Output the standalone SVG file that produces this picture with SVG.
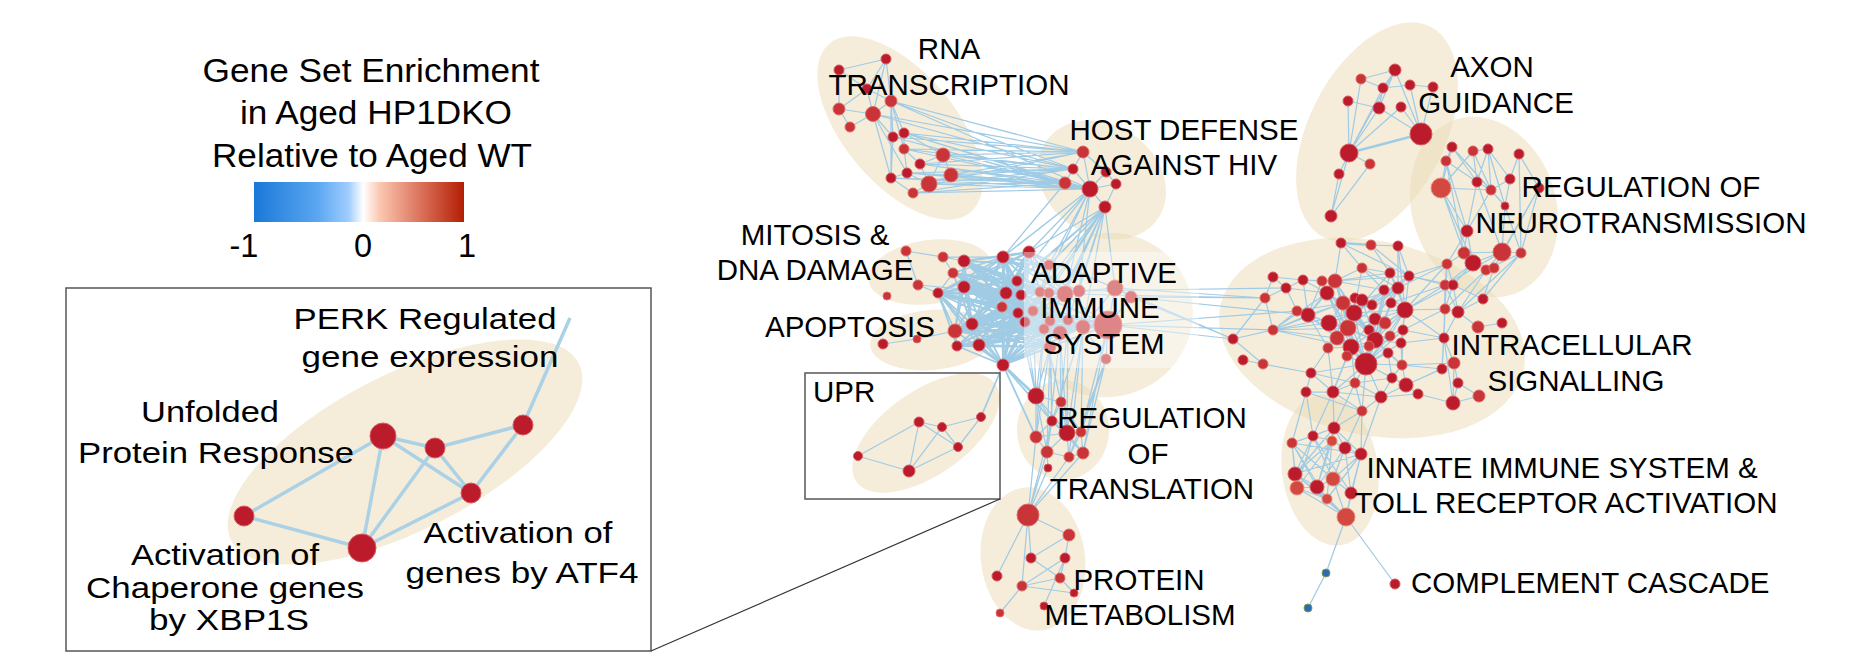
<svg xmlns="http://www.w3.org/2000/svg" width="1849" height="653" viewBox="0 0 1849 653">
<defs>
<linearGradient id="grad" x1="0" y1="0" x2="1" y2="0">
<stop offset="0" stop-color="#1a78d8"/><stop offset="0.3" stop-color="#5aa6f0"/><stop offset="0.45" stop-color="#9fcdff"/><stop offset="0.52" stop-color="#ffffff"/><stop offset="0.6" stop-color="#fbc6b0"/><stop offset="0.8" stop-color="#da6f58"/><stop offset="1" stop-color="#b31e05"/>
</linearGradient>
<style>
.bg{fill:#ecdcb5;fill-opacity:.5}
.e{fill:none;stroke:#a0cbe5;stroke-width:1.25}
.ed{fill:none;stroke:#a0cbe5;stroke-width:1.8}
.et{fill:none;stroke:#a0cbe5;stroke-width:2.6}
.ei{fill:none;stroke:#aad1e5;stroke-width:3.5}
.n{fill:#bc1b2c;stroke:#d9585f;stroke-width:1}
.m{fill:#c93438;stroke:#e06a66;stroke-width:1}
.l{fill:#d4493f;stroke:#e88a7a;stroke-width:1}
.b{fill:#2a6db5;stroke:#7a9a50;stroke-width:1}
text{font-family:"Liberation Sans",Arial,sans-serif;fill:#000}
.lab{font-size:29.5px;text-anchor:middle}
.leg{font-size:32.5px;text-anchor:middle}
.ins{font-size:30px;text-anchor:middle}
</style>
</defs>
<rect width="1849" height="653" fill="#ffffff"/>

<g id="legend">
<text class="leg" x="371" y="82" textLength="337" lengthAdjust="spacingAndGlyphs">Gene Set Enrichment</text>
<text class="leg" x="376" y="124" textLength="272" lengthAdjust="spacingAndGlyphs">in Aged HP1DKO</text>
<text class="leg" x="372" y="167" textLength="320" lengthAdjust="spacingAndGlyphs">Relative to Aged WT</text>
<rect x="254" y="182" width="210" height="40" fill="url(#grad)"/>
<text class="leg" x="244" y="257">-1</text>
<text class="leg" x="363" y="257">0</text>
<text class="leg" x="467" y="257">1</text>
</g>

<g id="cluster-backgrounds">
<ellipse class="bg" cx="900" cy="128" rx="110" ry="56" transform="rotate(50 900 128)"/>
<ellipse class="bg" cx="1102" cy="180" rx="68" ry="55" transform="rotate(35 1102 180)"/>
<ellipse class="bg" cx="930" cy="272" rx="62" ry="32" transform="rotate(-8 930 272)"/>
<ellipse class="bg" cx="932" cy="340" rx="62" ry="30" transform="rotate(-5 932 340)"/>
<ellipse class="bg" cx="1107" cy="315" rx="86" ry="82" transform="rotate(-15 1107 315)"/>
<ellipse class="bg" cx="926" cy="433" rx="85" ry="42" transform="rotate(-35 926 433)"/>
<ellipse class="bg" cx="1063" cy="430" rx="46" ry="50"/>
<ellipse class="bg" cx="1033" cy="559" rx="52" ry="72" transform="rotate(-8 1033 559)"/>
<ellipse class="bg" cx="1377" cy="132" rx="68" ry="118" transform="rotate(27 1377 132)"/>
<ellipse class="bg" cx="1484" cy="207" rx="72" ry="92" transform="rotate(-18 1484 207)"/>
<ellipse class="bg" cx="1372" cy="338" rx="155" ry="97" transform="rotate(12 1372 338)"/>
<ellipse class="bg" cx="1330" cy="470" rx="48" ry="76" transform="rotate(-8 1330 470)"/>
</g>

<g id="connectors">
<path class="e" d="M839 70L886 59 M839 70L867 89 M886 59L867 89 M886 59L873 114 M839 70L839 109 M867 89L839 109 M867 89L873 114 M867 89L891 101 M839 109L873 114 M891 101L873 114 M873 114L850 127 M839 109L850 127 M891 101L893 137 M891 101L904 133 M891 101L904 149 M873 114L893 137 M873 114L891 178 M873 114L907 173 M893 137L891 178 M904 133L904 149 M904 149L920 164 M904 149L907 173 M920 164L943 155 M920 164L929 184 M943 155L951 175 M943 155L929 184 M907 173L929 184 M907 173L891 178 M891 178L913 193 M929 184L913 193 M951 175L929 184 M891 101L891 178 M904 133L943 155 M907 173L951 175 M886 59L891 101"/>
<path class="e" d="M891 101L1083 152 M891 101L1073 169 M891 101L1090 189 M904 133L1083 152 M904 133L1073 169 M904 133L1065 183 M904 133L1090 189 M893 137L1083 152 M893 137L1065 183 M904 149L1083 152 M904 149L1073 169 M904 149L1090 189 M920 164L1073 169 M920 164L1065 183 M920 164L1090 189 M943 155L1083 152 M943 155L1073 169 M943 155L1090 189 M907 173L1073 169 M907 173L1065 183 M907 173L1090 189 M951 175L1083 152 M951 175L1073 169 M951 175L1065 183 M951 175L1090 189 M929 184L1073 169 M929 184L1065 183 M929 184L1090 189 M891 178L1065 183 M891 178L1090 189 M913 193L1065 183 M913 193L1090 189 M873 114L1083 152 M873 114L1073 169 M920 164L1083 152 M929 184L1083 152 M913 193L1073 169 M893 137L1090 189"/>
<path class="e" d="M1083 152L1073 169 M1083 152L1090 189 M1073 169L1090 189 M1065 183L1090 189 M1090 189L1116 184 M1090 189L1105 207 M1090 189L1106 172 M1116 184L1105 207 M1083 152L1106 172 M1065 183L1073 169 M1106 172L1116 184"/>
<path class="e" d="M1090 189L1003 257 M1090 189L1029 252 M1090 189L1017 281 M1090 189L1049 265 M1090 189L1040 292 M1090 189L1065 294 M1090 189L1079 291 M1105 207L1029 252 M1105 207L1017 281 M1105 207L1021 295 M1105 207L1040 292 M1105 207L1049 293 M1105 207L1065 294 M1105 207L1079 291 M1105 207L1115 288 M1105 207L1033 311 M1105 207L1050 321 M1105 207L1068 320 M1105 207L1049 265 M1105 207L1006 293 M1065 183L1003 257 M1090 189L964 287 M1105 207L1044 329 M1105 207L1083 327"/>
<path class="e" d="M906 251L943 257 M943 257L964 261 M943 257L953 273 M918 285L938 293 M953 273L938 293 M938 293L964 287 M964 261L964 287 M906 251L918 285 M943 257L1003 257 M964 261L1003 257 M883 344L917 339 M917 339L955 331 M955 331L972 324 M955 331L957 346 M957 346L979 345 M972 324L979 345 M918 285L1006 293"/>
<path class="ed" d="M938 293L1003 257 M938 293L1017 281 M938 293L1006 293 M938 293L1021 295 M938 293L1002 307 M938 293L1018 313 M938 293L1025 322 M938 293L1040 292 M938 293L1033 311 M938 293L1044 329 M938 293L1003 365 M938 293L972 324 M938 293L1029 252 M964 287L1003 257 M964 287L1029 252 M964 287L1017 281 M964 287L1006 293 M964 287L1021 295 M964 287L1002 307 M964 287L1018 313 M964 287L1025 322 M964 287L1040 292 M964 287L1065 294 M964 287L1033 311 M964 287L1044 329 M964 287L1003 365 M964 261L1029 252 M964 261L1017 281 M964 261L1006 293 M964 261L1021 295 M964 261L1018 313 M964 261L1049 265 M964 261L1040 292 M964 261L1065 294"/>
<path class="ed" d="M972 324L1003 257 M972 324L1029 252 M972 324L1017 281 M972 324L1006 293 M972 324L1021 295 M972 324L1002 307 M972 324L1018 313 M972 324L1025 322 M972 324L1040 292 M972 324L1033 311 M972 324L1044 329 M972 324L1003 365 M972 324L1065 294 M979 345L1017 281 M979 345L1006 293 M979 345L1002 307 M979 345L1018 313 M979 345L1025 322 M979 345L1003 365 M979 345L1033 311 M979 345L1044 329 M955 331L1003 257 M955 331L1017 281 M955 331L1006 293 M955 331L1002 307 M955 331L1018 313 M955 331L1003 365"/>
<path class="ed" d="M938 293L1049 293 M938 293L1065 294 M938 293L1050 321 M938 293L1068 320 M938 293L1060 333 M938 293L1050 347 M938 293L1083 327 M938 293L1108 325 M964 287L1049 293 M964 287L1050 321 M964 287L1068 320 M964 287L1060 333 M964 287L1050 347 M964 287L1083 327 M964 287L1108 325 M964 261L1049 293 M964 261L1050 321 M964 261L1068 320 M964 261L1060 333 M964 261L1083 327 M964 261L1108 325 M953 273L1049 293 M953 273L1065 294 M953 273L1050 321 M953 273L1060 333 M953 273L1083 327 M972 324L1049 293 M972 324L1050 321 M972 324L1068 320 M972 324L1060 333 M972 324L1050 347 M972 324L1083 327 M972 324L1108 325 M955 331L1049 293 M955 331L1065 294 M955 331L1050 321 M955 331L1060 333 M955 331L1050 347 M955 331L1083 327 M957 346L1049 293 M957 346L1050 321 M957 346L1060 333 M957 346L1050 347 M957 346L1068 320 M979 345L1049 293 M979 345L1065 294 M979 345L1050 321 M979 345L1060 333 M979 345L1050 347 M979 345L1083 327 M979 345L1108 325 M1003 365L1049 293 M1003 365L1065 294 M1003 365L1050 321 M1003 365L1068 320 M1003 365L1083 327 M1003 365L1108 325 M938 293L955 331 M938 293L979 345 M964 287L972 324 M964 287L979 345 M964 261L972 324 M953 273L972 324 M938 293L957 346 M964 287L955 331 M953 273L979 345 M964 261L955 331"/>
<path class="ed" d="M1003 365L1003 257 M1003 365L1029 252 M1003 365L1017 281 M1003 365L1006 293 M1003 365L1021 295 M1003 365L1002 307 M1003 365L1018 313 M1003 365L1025 322 M1003 365L1040 292 M1003 365L1033 311 M1003 365L1044 329 M1003 365L1060 333 M1003 365L1050 347 M1003 365L957 346 M1003 365L981 417 M1003 365L1036 437 M1003 365L1052 421"/>
<path class="ed" d="M1003 257L1029 252 M1003 257L1017 281 M1003 257L1006 293 M1003 257L1021 295 M1003 257L1002 307 M1003 257L1018 313 M1003 257L1025 322 M1003 257L1040 292 M1003 257L1065 294 M1003 257L1049 265 M1003 257L1079 291 M1029 252L1017 281 M1029 252L1006 293 M1029 252L1021 295 M1029 252L1002 307 M1029 252L1018 313 M1029 252L1025 322 M1029 252L1040 292 M1029 252L1065 294 M1029 252L1049 265 M1029 252L1115 288 M1017 281L1006 293 M1017 281L1021 295 M1017 281L1002 307 M1017 281L1018 313 M1017 281L1025 322 M1017 281L1040 292 M1017 281L1033 311 M1017 281L1044 329 M1006 293L1021 295 M1006 293L1002 307 M1006 293L1018 313 M1006 293L1025 322 M1006 293L1033 311 M1006 293L1044 329 M1021 295L1002 307 M1021 295L1018 313 M1002 307L1025 322 M1018 313L1025 322 M1021 295L1025 322 M1002 307L1018 313 M953 273L1003 257 M953 273L1017 281 M953 273L1006 293 M953 273L1002 307 M957 346L1002 307 M957 346L1018 313"/>
<path class="e" d="M1040 292L1049 293 M1049 293L1065 294 M1065 294L1079 291 M1079 291L1115 288 M1115 288L1131 297 M1065 294L1068 320 M1068 320L1083 327 M1083 327L1108 325 M1108 325L1115 288 M1050 321L1060 333 M1060 333L1083 327 M1044 329L1060 333 M1050 347L1060 333 M1108 325L1106 359 M1068 320L1108 325 M1033 311L1050 321 M1050 321L1068 320 M1049 293L1050 321 M1083 327L1106 359 M1131 297L1108 325 M1049 265L1065 294 M1049 265L1040 292 M1079 291L1083 327 M1065 294L1108 325 M1115 288L1083 327"/>
<path class="e" d="M1115 288L1265 298 M1131 297L1265 298 M1108 325L1273 330 M1108 325L1233 339 M1131 297L1233 339 M1079 291L1286 288 M1083 327L1297 311 M1131 297L1308 315 M1065 294L1265 298 M1115 288L1233 339"/>
<path class="et" d="M1003 365L1036 396 M1349 153L1421 134 M1341 243L1371 245"/>
<path class="e" d="M1036 396L1061 402 M1036 396L1036 437 M1036 396L1052 421 M1036 396L1067 433 M1036 396L1047 452 M1061 402L1067 433 M1052 421L1067 433 M1052 421L1036 437 M1067 433L1081 432 M1067 433L1047 452 M1067 433L1069 457 M1067 433L1083 453 M1081 432L1083 453 M1036 437L1047 452 M1047 452L1069 457 M1069 457L1083 453 M1052 421L1047 452 M1036 437L1067 433 M1061 402L1052 421 M1081 432L1069 457 M1047 452L1048 468 M1061 402L1081 432 M1052 421L1083 453"/>
<path class="e" d="M1061 402L1044 329 M1061 402L1060 333 M1052 421L1050 321 M1052 421L1050 347 M1067 433L1060 333 M1067 433L1083 327 M1067 433L1068 320 M1081 432L1108 325 M1081 432L1083 327 M1081 432L1106 359 M1036 437L1044 329 M1036 437L1050 347 M1047 452L1060 333 M1047 452L1050 347 M1069 457L1083 327 M1069 457L1106 359 M1083 453L1108 325 M1083 453L1106 359 M1036 396L1044 329 M1036 396L1033 311 M1036 396L1050 347 M1061 402L1068 320 M1052 421L1083 327 M1036 396L1025 322 M1036 396L1018 313"/>
<path class="e" d="M1048 468L1028 515 M1047 452L1028 515 M1036 437L1028 515 M1069 457L1028 515 M1052 421L1028 515 M1083 453L1028 515 M1028 515L1069 535 M1028 515L1031 558 M1028 515L997 576 M1028 515L1022 586 M1069 535L1065 558 M1069 535L1031 558 M1031 558L1060 578 M1065 558L1060 578 M1065 558L1022 586 M1060 578L1022 586 M1022 586L1000 613 M1022 586L1074 593 M1060 578L1074 593 M1065 558L1044 606"/>
<path class="e" d="M919 422L858 456 M858 456L909 471 M919 422L909 471 M919 422L942 427 M919 422L958 447 M942 427L981 417 M942 427L958 447 M942 427L909 471 M909 471L958 447 M958 447L981 417"/>
<path class="e" d="M1395 70L1361 79 M1395 70L1383 88 M1395 70L1379 108 M1395 70L1421 134 M1361 79L1383 88 M1383 88L1379 108 M1383 88L1410 85 M1410 85L1421 134 M1433 87L1421 134 M1433 87L1410 85 M1348 101L1379 108 M1348 101L1349 153 M1379 108L1349 153 M1401 107L1349 153 M1401 107L1421 134 M1379 108L1421 134 M1349 153L1370 164 M1349 153L1339 174 M1349 153L1331 216 M1339 174L1331 216 M1370 164L1331 216 M1383 88L1349 153 M1395 70L1349 153 M1361 79L1349 153"/>
<path class="e" d="M1452 147L1446 161 M1452 147L1477 182 M1452 147L1441 188 M1473 151L1477 182 M1473 151L1491 190 M1473 151L1488 149 M1488 149L1510 179 M1488 149L1491 190 M1488 149L1505 206 M1446 161L1441 188 M1446 161L1477 182 M1477 182L1491 190 M1477 182L1467 231 M1510 179L1491 190 M1510 179L1505 206 M1441 188L1467 231 M1441 188L1464 253 M1491 190L1505 206 M1491 190L1467 231 M1505 206L1502 252 M1519 154L1539 188 M1519 154L1510 179 M1539 188L1502 252 M1539 188L1521 253 M1467 231L1464 253 M1467 231L1473 263 M1464 253L1473 263 M1464 253L1502 252 M1502 252L1521 253 M1502 252L1473 263 M1502 252L1486 270 M1521 253L1486 270 M1473 263L1486 270 M1473 263L1494 268 M1502 252L1494 268 M1452 147L1491 190 M1446 161L1464 253 M1473 151L1441 188 M1488 149L1477 182 M1519 154L1521 253 M1441 188L1473 263 M1446 161L1467 231 M1477 182L1502 252 M1505 206L1521 253 M1441 188L1491 190 M1452 147L1505 206 M1539 188L1494 268"/>
<path class="e" d="M1464 253L1447 264 M1473 263L1453 285 M1473 263L1445 285 M1486 270L1458 312 M1521 253L1458 312 M1486 270L1445 309 M1494 268L1483 299 M1502 252L1445 285 M1467 231L1447 264 M1521 253L1483 299"/>
<path class="e" d="M1371 245L1398 246 M1341 243L1362 268 M1362 268L1390 273 M1362 268L1335 281 M1362 268L1384 290 M1371 245L1390 273 M1398 246L1409 276 M1341 243L1335 281 M1366 364L1335 281 M1366 364L1327 293 M1366 364L1343 303 M1366 364L1354 313 M1366 364L1329 323 M1366 364L1375 319 M1366 364L1385 323 M1366 364L1348 328 M1366 364L1369 330 M1366 364L1337 338 M1366 364L1375 340 M1366 364L1390 336 M1366 364L1351 347 M1366 364L1369 346 M1366 364L1401 343 M1366 364L1347 356 M1366 364L1388 353 M1366 364L1402 365 M1366 364L1355 383 M1366 364L1392 378 M1366 364L1406 385 M1366 364L1333 392 M1366 364L1381 397 M1366 364L1362 411 M1366 364L1311 373 M1366 364L1405 310 M1366 364L1403 330 M1366 364L1398 288 M1366 364L1384 290 M1366 364L1391 303"/>
<path class="e" d="M1375 340L1335 281 M1375 340L1398 288 M1375 340L1327 293 M1375 340L1362 300 M1375 340L1343 303 M1375 340L1391 303 M1375 340L1354 313 M1375 340L1405 310 M1375 340L1329 323 M1375 340L1385 323 M1375 340L1348 328 M1375 340L1369 330 M1375 340L1403 330 M1375 340L1390 336 M1375 340L1351 347 M1375 340L1401 343 M1375 340L1388 353 M1375 340L1402 365 M1375 340L1384 290 M1375 340L1390 273 M1351 347L1327 293 M1351 347L1343 303 M1351 347L1308 315 M1351 347L1354 313 M1351 347L1329 323 M1351 347L1348 328 M1351 347L1337 338 M1351 347L1328 348 M1351 347L1369 346 M1351 347L1347 356 M1351 347L1355 383 M1351 347L1333 392 M1351 347L1398 288 M1351 347L1405 310"/>
<path class="e" d="M1354 313L1335 281 M1354 313L1327 293 M1354 313L1355 298 M1354 313L1362 300 M1354 313L1343 303 M1354 313L1329 323 M1354 313L1375 319 M1354 313L1348 328 M1354 313L1369 330 M1354 313L1337 338 M1354 313L1384 290 M1354 313L1398 288 M1354 313L1405 310 M1354 313L1390 273 M1354 313L1409 276 M1354 313L1362 268 M1348 328L1327 293 M1348 328L1343 303 M1348 328L1308 315 M1348 328L1329 323 M1348 328L1337 338 M1348 328L1328 348 M1348 328L1335 281 M1348 328L1398 288 M1348 328L1405 310"/>
<path class="e" d="M1405 310L1390 273 M1405 310L1409 276 M1405 310L1384 290 M1405 310L1398 288 M1405 310L1391 303 M1405 310L1385 323 M1405 310L1403 330 M1405 310L1390 336 M1405 310L1401 343 M1405 310L1447 264 M1405 310L1445 285 M1405 310L1453 285 M1405 310L1445 309 M1405 310L1444 338 M1405 310L1398 246 M1398 288L1390 273 M1398 288L1409 276 M1398 288L1384 290 M1398 288L1391 303 M1398 288L1398 246 M1398 288L1362 268 M1398 288L1362 300 M1398 288L1372 305 M1398 288L1447 264 M1343 303L1335 281 M1343 303L1327 293 M1343 303L1355 298 M1343 303L1329 323 M1343 303L1337 338 M1343 303L1308 315 M1343 303L1297 311"/>
<path class="e" d="M1273 330L1327 293 M1273 330L1343 303 M1273 330L1308 315 M1273 330L1329 323 M1273 330L1354 313 M1273 330L1348 328 M1273 330L1351 347 M1273 330L1337 338 M1273 330L1297 311 M1273 330L1265 298 M1308 315L1327 293 M1308 315L1329 323 M1308 315L1337 338 M1308 315L1328 348 M1308 315L1297 311 M1308 315L1303 280 M1308 315L1322 281 M1308 315L1335 281 M1273 277L1286 288 M1273 277L1265 298 M1273 277L1303 280 M1286 288L1303 280 M1286 288L1327 293 M1286 288L1265 298 M1286 288L1297 311 M1303 280L1322 281 M1303 280L1327 293 M1303 280L1335 281 M1322 281L1335 281 M1322 281L1327 293 M1335 281L1327 293 M1335 281L1390 273 M1335 281L1409 276 M1335 281L1384 290 M1371 245L1409 276 M1341 243L1409 276"/>
<path class="e" d="M1233 339L1265 298 M1233 339L1263 364 M1233 339L1273 330 M1243 360L1263 364 M1263 364L1311 373 M1311 373L1306 392 M1311 373L1333 392 M1311 373L1355 383 M1311 373L1328 348 M1306 392L1333 392 M1306 392L1362 411 M1333 392L1355 383 M1333 392L1381 397 M1333 392L1362 411 M1333 392L1347 356 M1333 392L1328 348 M1355 383L1381 397 M1355 383L1392 378 M1355 383L1362 411 M1381 397L1392 378 M1381 397L1406 385 M1381 397L1418 394 M1381 397L1362 411 M1392 378L1406 385 M1392 378L1402 365 M1392 378L1388 353 M1406 385L1402 365 M1406 385L1418 394 M1406 385L1454 363 M1406 385L1442 369 M1402 365L1401 343 M1402 365L1388 353 M1402 365L1403 330 M1402 365L1442 369 M1402 365L1454 363 M1418 394L1453 403 M1453 403L1479 396 M1453 403L1454 363 M1453 403L1458 383 M1453 403L1444 338 M1479 396L1458 383"/>
<path class="e" d="M1444 338L1445 309 M1444 338L1458 312 M1444 338L1401 343 M1444 338L1403 330 M1444 338L1454 363 M1444 338L1442 369 M1444 338L1445 285 M1478 327L1458 312 M1478 327L1502 323 M1454 363L1458 383 M1454 363L1442 369 M1442 369L1445 309 M1445 309L1458 312 M1445 309L1447 264 M1445 309L1445 285 M1445 309L1453 285 M1445 309L1403 330 M1458 312L1453 285 M1458 312L1445 285 M1447 264L1445 285 M1447 264L1453 285 M1447 264L1409 276 M1445 285L1453 285 M1483 299L1453 285 M1483 299L1458 312 M1409 276L1445 285 M1409 276L1453 285 M1391 303L1445 285"/>
<path class="e" d="M1334 428L1313 436 M1334 428L1332 441 M1334 428L1345 448 M1334 428L1361 454 M1334 428L1292 443 M1313 436L1292 443 M1313 436L1332 441 M1313 436L1295 474 M1313 436L1333 479 M1332 441L1345 448 M1332 441L1295 474 M1332 441L1317 487 M1292 443L1295 474 M1292 443L1297 488 M1292 443L1317 487 M1292 443L1333 479 M1345 448L1361 454 M1345 448L1333 479 M1345 448L1351 493 M1361 454L1351 493 M1361 454L1333 479 M1361 454L1346 517 M1295 474L1297 488 M1295 474L1317 487 M1295 474L1327 499 M1333 479L1317 487 M1333 479L1351 493 M1333 479L1346 517 M1297 488L1317 487 M1297 488L1327 499 M1317 487L1327 499 M1317 487L1346 517 M1351 493L1346 517 M1327 499L1346 517 M1334 428L1295 474 M1334 428L1317 487 M1313 436L1351 493 M1332 441L1297 488 M1345 448L1317 487 M1361 454L1327 499 M1313 436L1297 488 M1332 441L1327 499 M1295 474L1346 517 M1292 443L1327 499 M1297 488L1346 517 M1361 454L1295 474 M1292 443L1361 454"/>
<path class="e" d="M1334 428L1362 411 M1334 428L1355 383 M1345 448L1362 411 M1313 436L1306 392 M1334 428L1333 392 M1313 436L1333 392 M1361 454L1362 411 M1292 443L1306 392 M1361 454L1381 397 M1346 517L1326 573 M1326 573L1308 608 M1346 517L1395 584"/>
</g>

<g id="node-rna-transcription">
<circle class="n" cx="886" cy="59" r="5"/><circle class="n" cx="839" cy="70" r="5"/><circle class="n" cx="867" cy="89" r="5"/><circle class="m" cx="891" cy="101" r="6"/><circle class="m" cx="839" cy="109" r="6"/><circle class="m" cx="873" cy="114" r="7.5"/><circle class="m" cx="850" cy="127" r="5"/><circle class="n" cx="893" cy="137" r="5"/><circle class="n" cx="904" cy="133" r="5"/><circle class="m" cx="904" cy="149" r="5"/><circle class="n" cx="920" cy="164" r="5"/><circle class="m" cx="943" cy="155" r="7"/><circle class="n" cx="907" cy="173" r="5"/><circle class="m" cx="951" cy="175" r="7"/><circle class="m" cx="929" cy="184" r="8"/><circle class="n" cx="891" cy="178" r="5"/><circle class="m" cx="913" cy="193" r="5"/>
<text class="lab" x="949" y="59">RNA</text>
<text class="lab" x="949" y="95">TRANSCRIPTION</text>
</g>

<g id="node-host-defense-against-hiv">
<circle class="m" cx="1083" cy="152" r="6"/><circle class="n" cx="1073" cy="169" r="5"/><circle class="m" cx="1065" cy="183" r="6"/><circle class="n" cx="1090" cy="189" r="8"/><circle class="n" cx="1116" cy="184" r="5"/><circle class="n" cx="1105" cy="207" r="6"/><circle class="n" cx="1106" cy="172" r="5"/>
<text class="lab" x="1184" y="140">HOST DEFENSE</text>
<text class="lab" x="1184" y="175">AGAINST HIV</text>
</g>

<g id="node-mitosis-dna-damage">
<circle class="m" cx="906" cy="251" r="5"/><circle class="m" cx="943" cy="257" r="5"/><circle class="n" cx="964" cy="261" r="6"/><circle class="m" cx="953" cy="273" r="5"/><circle class="m" cx="918" cy="285" r="5"/><circle class="m" cx="887" cy="296" r="4"/><circle class="n" cx="938" cy="293" r="5"/><circle class="n" cx="964" cy="287" r="6"/>
<circle class="n" cx="1003" cy="257" r="6"/><circle class="n" cx="1029" cy="252" r="6"/><circle class="n" cx="1017" cy="281" r="5"/><circle class="n" cx="1006" cy="293" r="6"/><circle class="n" cx="1021" cy="295" r="5"/><circle class="m" cx="1002" cy="307" r="5"/><circle class="n" cx="1018" cy="313" r="5"/><circle class="n" cx="1025" cy="322" r="5"/>
<text class="lab" x="815" y="245">MITOSIS &amp;</text>
<text class="lab" x="815" y="280">DNA DAMAGE</text>
</g>

<g id="node-apoptosis">
<circle class="n" cx="972" cy="324" r="6"/><circle class="m" cx="955" cy="331" r="7"/><circle class="n" cx="957" cy="346" r="5"/><circle class="n" cx="979" cy="345" r="6"/><circle class="m" cx="917" cy="339" r="4"/><circle class="n" cx="883" cy="344" r="5"/><circle class="n" cx="1003" cy="365" r="6"/>
<text class="lab" x="850" y="337">APOPTOSIS</text>
</g>

<g id="node-adaptive-immune-system">
<circle class="m" cx="1040" cy="292" r="5"/><circle class="m" cx="1049" cy="293" r="5"/><circle class="m" cx="1065" cy="294" r="8"/><circle class="m" cx="1079" cy="291" r="6"/><circle class="m" cx="1115" cy="288" r="8"/><circle class="m" cx="1131" cy="297" r="6"/><circle class="m" cx="1033" cy="311" r="5"/><circle class="m" cx="1050" cy="321" r="5"/><circle class="m" cx="1068" cy="320" r="5"/><circle class="m" cx="1044" cy="329" r="5"/><circle class="m" cx="1060" cy="333" r="7"/><circle class="m" cx="1083" cy="327" r="7"/><circle class="m" cx="1108" cy="325" r="14"/><circle class="m" cx="1050" cy="347" r="6"/><circle class="m" cx="1106" cy="359" r="5"/><circle class="m" cx="1049" cy="265" r="5"/>
<rect x="1024" y="252" width="175" height="116" fill="#ffffff" fill-opacity="0.4"/>
<text class="lab" x="1104" y="283">ADAPTIVE</text>
<text class="lab" x="1100" y="318">IMMUNE</text>
<text class="lab" x="1104" y="354">SYSTEM</text>
</g>

<g id="node-upr">
<rect x="805" y="373" width="195" height="126" fill="none" stroke="#555" stroke-width="1.5"/>
<circle class="n" cx="919" cy="422" r="5"/><circle class="n" cx="942" cy="427" r="4.5"/><circle class="n" cx="981" cy="417" r="4.5"/><circle class="n" cx="958" cy="447" r="4.5"/><circle class="n" cx="858" cy="456" r="4.5"/><circle class="n" cx="909" cy="471" r="6"/>
<text x="813" y="402" font-size="29.5">UPR</text>
</g>

<g id="node-regulation-of-translation">
<circle class="n" cx="1036" cy="396" r="8"/><circle class="m" cx="1061" cy="402" r="5"/><circle class="n" cx="1052" cy="421" r="5"/><circle class="n" cx="1067" cy="433" r="8"/><circle class="m" cx="1081" cy="432" r="5"/><circle class="m" cx="1036" cy="437" r="6"/><circle class="m" cx="1047" cy="452" r="6"/><circle class="m" cx="1069" cy="457" r="5"/><circle class="m" cx="1083" cy="453" r="6"/><circle class="n" cx="1048" cy="468" r="4"/>
<text class="lab" x="1152" y="428">REGULATION</text>
<text class="lab" x="1148" y="464">OF</text>
<text class="lab" x="1152" y="499">TRANSLATION</text>
</g>

<g id="node-protein-metabolism">
<circle class="m" cx="1028" cy="515" r="11"/><circle class="m" cx="1069" cy="535" r="6"/><circle class="n" cx="1031" cy="558" r="5"/><circle class="n" cx="1065" cy="558" r="5"/><circle class="n" cx="997" cy="576" r="5"/><circle class="m" cx="1060" cy="578" r="5"/><circle class="m" cx="1022" cy="586" r="5"/><circle class="n" cx="1074" cy="593" r="4"/><circle class="m" cx="1000" cy="613" r="4"/><circle class="n" cx="1044" cy="606" r="4"/>
<text class="lab" x="1139" y="590">PROTEIN</text>
<text class="lab" x="1140" y="625">METABOLISM</text>
</g>

<g id="node-axon-guidance">
<circle class="n" cx="1395" cy="70" r="6"/><circle class="m" cx="1361" cy="79" r="5"/><circle class="n" cx="1383" cy="88" r="5"/><circle class="n" cx="1410" cy="85" r="5"/><circle class="n" cx="1433" cy="87" r="5"/><circle class="n" cx="1348" cy="101" r="5"/><circle class="n" cx="1379" cy="108" r="6"/><circle class="n" cx="1401" cy="107" r="5"/><circle class="n" cx="1421" cy="134" r="11"/><circle class="n" cx="1349" cy="153" r="9"/><circle class="m" cx="1370" cy="164" r="5"/><circle class="n" cx="1339" cy="174" r="5"/><circle class="n" cx="1331" cy="216" r="6"/>
<text class="lab" x="1492" y="77">AXON</text>
<text class="lab" x="1496" y="113">GUIDANCE</text>
</g>

<g id="node-regulation-of-neurotransmission">
<circle class="n" cx="1452" cy="147" r="5"/><circle class="m" cx="1473" cy="151" r="5"/><circle class="n" cx="1488" cy="149" r="5"/><circle class="n" cx="1519" cy="154" r="5"/><circle class="m" cx="1446" cy="161" r="5"/><circle class="n" cx="1477" cy="182" r="5"/><circle class="n" cx="1510" cy="179" r="5"/><circle class="l" cx="1441" cy="188" r="10"/><circle class="m" cx="1491" cy="190" r="5"/><circle class="n" cx="1505" cy="206" r="4"/><circle class="n" cx="1539" cy="188" r="5"/><circle class="n" cx="1467" cy="231" r="6"/><circle class="m" cx="1464" cy="253" r="6"/><circle class="m" cx="1502" cy="252" r="9"/><circle class="m" cx="1521" cy="253" r="5"/><circle class="n" cx="1473" cy="263" r="8"/><circle class="m" cx="1486" cy="270" r="5"/><circle class="m" cx="1494" cy="268" r="5"/>
<text class="lab" x="1641" y="197">REGULATION OF</text>
<text class="lab" x="1641" y="233">NEUROTRANSMISSION</text>
</g>

<g id="node-intracellular-signalling">
<circle class="n" cx="1341" cy="243" r="5"/><circle class="m" cx="1371" cy="245" r="5"/><circle class="n" cx="1398" cy="246" r="5"/><circle class="m" cx="1362" cy="268" r="5"/><circle class="n" cx="1273" cy="277" r="5"/><circle class="n" cx="1286" cy="288" r="5"/><circle class="n" cx="1303" cy="280" r="5"/><circle class="m" cx="1322" cy="281" r="5"/><circle class="m" cx="1335" cy="281" r="7"/><circle class="n" cx="1390" cy="273" r="5"/><circle class="n" cx="1409" cy="276" r="5"/><circle class="n" cx="1384" cy="290" r="5"/><circle class="n" cx="1398" cy="288" r="6"/><circle class="m" cx="1447" cy="264" r="5"/><circle class="m" cx="1445" cy="285" r="5"/><circle class="n" cx="1453" cy="285" r="5"/><circle class="m" cx="1265" cy="298" r="5"/><circle class="n" cx="1327" cy="293" r="7"/><circle class="n" cx="1355" cy="298" r="5"/><circle class="n" cx="1362" cy="300" r="6"/><circle class="n" cx="1372" cy="305" r="5"/><circle class="m" cx="1343" cy="303" r="7"/><circle class="n" cx="1391" cy="303" r="5"/><circle class="n" cx="1483" cy="299" r="5"/><circle class="m" cx="1297" cy="311" r="5"/><circle class="n" cx="1308" cy="315" r="7"/><circle class="n" cx="1354" cy="313" r="8"/><circle class="n" cx="1405" cy="310" r="8"/><circle class="m" cx="1445" cy="309" r="5"/><circle class="n" cx="1458" cy="312" r="6"/><circle class="n" cx="1329" cy="323" r="8"/><circle class="n" cx="1375" cy="319" r="6"/><circle class="m" cx="1385" cy="323" r="6"/><circle class="m" cx="1273" cy="330" r="5"/><circle class="m" cx="1348" cy="328" r="8"/><circle class="n" cx="1369" cy="330" r="5"/><circle class="n" cx="1403" cy="330" r="5"/><circle class="m" cx="1337" cy="338" r="7"/><circle class="n" cx="1375" cy="340" r="8"/><circle class="m" cx="1390" cy="336" r="5"/><circle class="n" cx="1233" cy="339" r="5"/><circle class="m" cx="1328" cy="348" r="5"/><circle class="n" cx="1351" cy="347" r="8"/><circle class="m" cx="1369" cy="346" r="5"/><circle class="n" cx="1401" cy="343" r="5"/><circle class="n" cx="1444" cy="338" r="5"/><circle class="m" cx="1478" cy="327" r="6"/><circle class="n" cx="1502" cy="323" r="5"/><circle class="m" cx="1347" cy="356" r="5"/><circle class="n" cx="1388" cy="353" r="5"/><circle class="n" cx="1366" cy="364" r="11"/><circle class="n" cx="1243" cy="360" r="5"/><circle class="m" cx="1263" cy="364" r="5"/><circle class="n" cx="1311" cy="373" r="5"/><circle class="m" cx="1402" cy="365" r="5"/><circle class="n" cx="1442" cy="369" r="5"/><circle class="m" cx="1454" cy="363" r="6"/><circle class="m" cx="1355" cy="383" r="5"/><circle class="n" cx="1392" cy="378" r="5"/><circle class="n" cx="1406" cy="385" r="7"/><circle class="n" cx="1458" cy="383" r="5"/><circle class="n" cx="1306" cy="392" r="5"/><circle class="n" cx="1333" cy="392" r="6"/><circle class="n" cx="1381" cy="397" r="6"/><circle class="n" cx="1418" cy="394" r="5"/><circle class="m" cx="1479" cy="396" r="6"/><circle class="n" cx="1453" cy="403" r="7"/><circle class="m" cx="1362" cy="411" r="5"/>
<text class="lab" x="1572" y="355">INTRACELLULAR</text>
<text class="lab" x="1576" y="391">SIGNALLING</text>
</g>

<g id="node-innate-immune-toll">
<circle class="n" cx="1334" cy="428" r="6"/><circle class="n" cx="1313" cy="436" r="5"/><circle class="l" cx="1332" cy="441" r="5"/><circle class="m" cx="1292" cy="443" r="5"/><circle class="n" cx="1345" cy="448" r="6"/><circle class="n" cx="1361" cy="454" r="6"/><circle class="n" cx="1295" cy="474" r="7"/><circle class="l" cx="1333" cy="479" r="7"/><circle class="l" cx="1297" cy="488" r="7"/><circle class="n" cx="1317" cy="487" r="7"/><circle class="n" cx="1351" cy="493" r="6"/><circle class="l" cx="1327" cy="499" r="5"/><circle class="l" cx="1346" cy="517" r="9"/>
<text class="lab" x="1562" y="478">INNATE IMMUNE SYSTEM &amp;</text>
<text class="lab" x="1566" y="513">TOLL RECEPTOR ACTIVATION</text>
</g>

<g id="node-blue-sets">
<circle class="b" cx="1326" cy="573" r="4"/><circle class="b" cx="1308" cy="608" r="4"/>
</g>

<g id="node-complement-cascade">
<circle class="n" cx="1395" cy="584" r="5"/>
<text x="1411" y="593" font-size="29.5">COMPLEMENT CASCADE</text>
</g>

<g id="inset-upr">
<rect x="66" y="288" width="585" height="363" fill="#ffffff" stroke="#555" stroke-width="1.5"/>
<line x1="651" y1="651" x2="1000" y2="499" stroke="#333" stroke-width="1.2"/>
<ellipse class="bg" cx="405" cy="452" rx="195" ry="78" transform="rotate(-27 405 452)"/>
<path class="ei" d="M383 436L244 516 M244 516L362 548 M383 436L362 548 M383 436L435 448 M383 436L471 493 M435 448L523 425 M435 448L362 548 M362 548L471 493 M471 493L523 425 M523 425L570 318"/>
<path class="ei" d="M435 448L471 493" stroke-width="5"/>
<circle class="n" cx="383" cy="436" r="13"/><circle class="n" cx="435" cy="448" r="10"/><circle class="n" cx="523" cy="425" r="10"/><circle class="n" cx="471" cy="493" r="10"/><circle class="n" cx="244" cy="516" r="10"/><circle class="n" cx="362" cy="548" r="14"/>
<text class="ins" x="425" y="329" textLength="263" lengthAdjust="spacingAndGlyphs">PERK Regulated</text>
<text class="ins" x="430" y="367" textLength="257" lengthAdjust="spacingAndGlyphs">gene expression</text>
<text class="ins" x="210" y="422" textLength="138" lengthAdjust="spacingAndGlyphs">Unfolded</text>
<text class="ins" x="216" y="463" textLength="276" lengthAdjust="spacingAndGlyphs">Protein Response</text>
<text class="ins" x="225" y="565" textLength="188" lengthAdjust="spacingAndGlyphs">Activation of</text>
<text class="ins" x="225" y="598" textLength="278" lengthAdjust="spacingAndGlyphs">Chaperone genes</text>
<text class="ins" x="229" y="630" textLength="160" lengthAdjust="spacingAndGlyphs">by XBP1S</text>
<text class="ins" x="518" y="543" textLength="189" lengthAdjust="spacingAndGlyphs">Activation of</text>
<text class="ins" x="522" y="583" textLength="233" lengthAdjust="spacingAndGlyphs">genes by ATF4</text>
</g>
</svg>
